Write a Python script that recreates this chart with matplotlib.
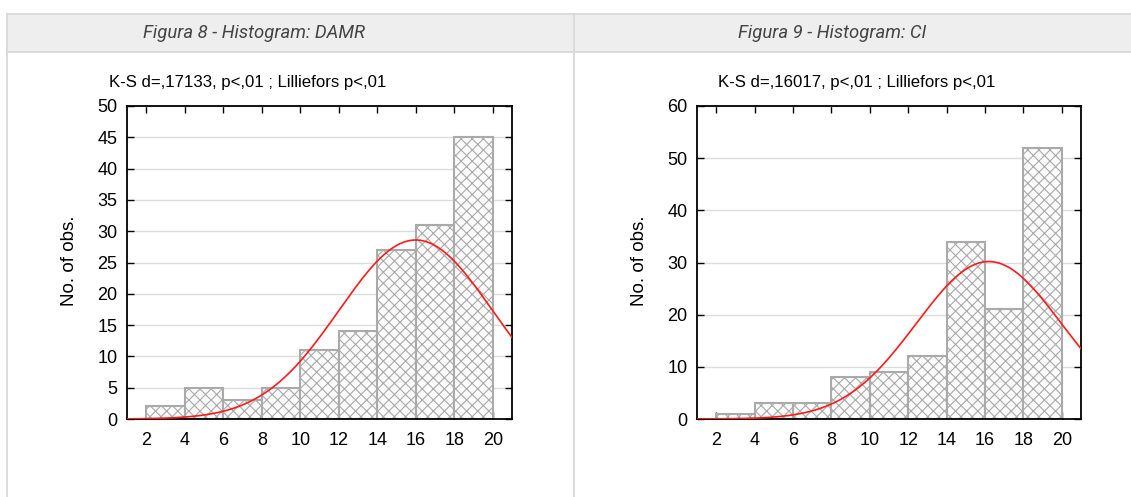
import numpy as np
import matplotlib
matplotlib.use("Agg")
import matplotlib.pyplot as plt
from matplotlib.patches import Rectangle
from matplotlib.lines import Line2D

plt.rcParams['font.family'] = ['Liberation Sans', 'DejaVu Sans']
plt.rcParams['hatch.color'] = '#d9d9d9'
plt.rcParams['hatch.linewidth'] = 0.8

# ---- data ----
bin_edges = [2, 4, 6, 8, 10, 12, 14, 16, 18, 20]
damr_counts = [2, 5, 3, 5, 11, 14, 27, 31, 45]
ci_counts = [1, 3, 3, 8, 9, 12, 34, 21, 52]
# fitted normal curve parameters (mean, sd)
damr_fit = (16.0, 3.99)
ci_fit = (16.2, 3.78)
xticks = [2, 4, 6, 8, 10, 12, 14, 16, 18, 20]
damr_yticks = [0, 5, 10, 15, 20, 25, 30, 35, 40, 45, 50]
ci_yticks = [0, 10, 20, 30, 40, 50, 60]
header_titles = ["Figura 8 - Histogram: DAMR", "Figura 9 - Histogram: CI"]
chart_titles = ["K-S d=,17133, p<,01 ; Lilliefors p<,01",
                "K-S d=,16017, p<,01 ; Lilliefors p<,01"]
ylabel = "No. of obs."

W, H = 1131, 497
fig = plt.figure(figsize=(W / 100, H / 100), dpi=100)


def fx(px):
    return px / W


def fy(py):
    return 1 - py / H


# ---- table chrome ----
fig.add_artist(Rectangle((fx(7), fy(52)), fx(1131 - 7), (52 - 14) / H,
                         transform=fig.transFigure, facecolor='#eeeeee',
                         edgecolor='none', zorder=0))
border = '#d9d9d9'
for y in (14, 52):
    fig.add_artist(Line2D([fx(7), 1], [fy(y), fy(y)], transform=fig.transFigure,
                          color=border, lw=1.3))
for x in (7, 574):
    fig.add_artist(Line2D([fx(x), fx(x)], [fy(14), 0], transform=fig.transFigure,
                          color=border, lw=1.3))
fig.text(fx(254), fy(33), header_titles[0], family='Roboto', style='italic',
         fontsize=13.3, color='#444444', ha='center', va='center')
fig.text(fx(832), fy(33), header_titles[1], family='Roboto', style='italic',
         fontsize=13.3, color='#444444', ha='center', va='center')


def draw(rect, counts, fit, yticks, title, title_x, ylabel_x):
    ax = fig.add_axes(rect)
    widths = np.diff(bin_edges)
    ax.bar(bin_edges[:-1], counts, width=widths, align='edge',
           facecolor='#fbfbfb', edgecolor='#aaaaaa', linewidth=1.5,
           hatch='xxx', zorder=2)
    n = sum(counts)
    mu, sd = fit
    xs = np.linspace(1, 21, 400)
    ys = n * 2 / (sd * np.sqrt(2 * np.pi)) * np.exp(-0.5 * ((xs - mu) / sd) ** 2)
    ax.plot(xs, ys, color='#ff1a1a', lw=1.2, zorder=3, clip_on=True)
    ax.set_xlim(1, 21)
    ax.set_ylim(yticks[0], yticks[-1])
    ax.set_xticks(xticks)
    ax.set_yticks(yticks)
    ax.yaxis.grid(True, color='#dcdcdc', lw=1.0, zorder=0)
    ax.set_axisbelow(True)
    ax.tick_params(direction='in', length=5, width=1.0, top=True, right=True,
                   labelsize=13, pad=7, colors='black')
    ax.tick_params(axis='x', pad=9.5)
    for s in ax.spines.values():
        s.set_linewidth(1.3)
        s.set_color('black')
    fig.text(fx(title_x), fy(83), title, fontsize=12.1, ha='center', va='center')
    fig.text(fx(ylabel_x), fy(261), ylabel, fontsize=13.5, rotation=90,
             ha='center', va='center')
    return ax


draw([fx(127), fy(419), fx(512 - 127), (419 - 106) / H], damr_counts, damr_fit,
     damr_yticks, chart_titles[0], 248, 70)
draw([fx(697), fy(419), fx(1081 - 697), (419 - 106) / H], ci_counts, ci_fit,
     ci_yticks, chart_titles[1], 857, 640)

fig.savefig('out.png', dpi=100)
